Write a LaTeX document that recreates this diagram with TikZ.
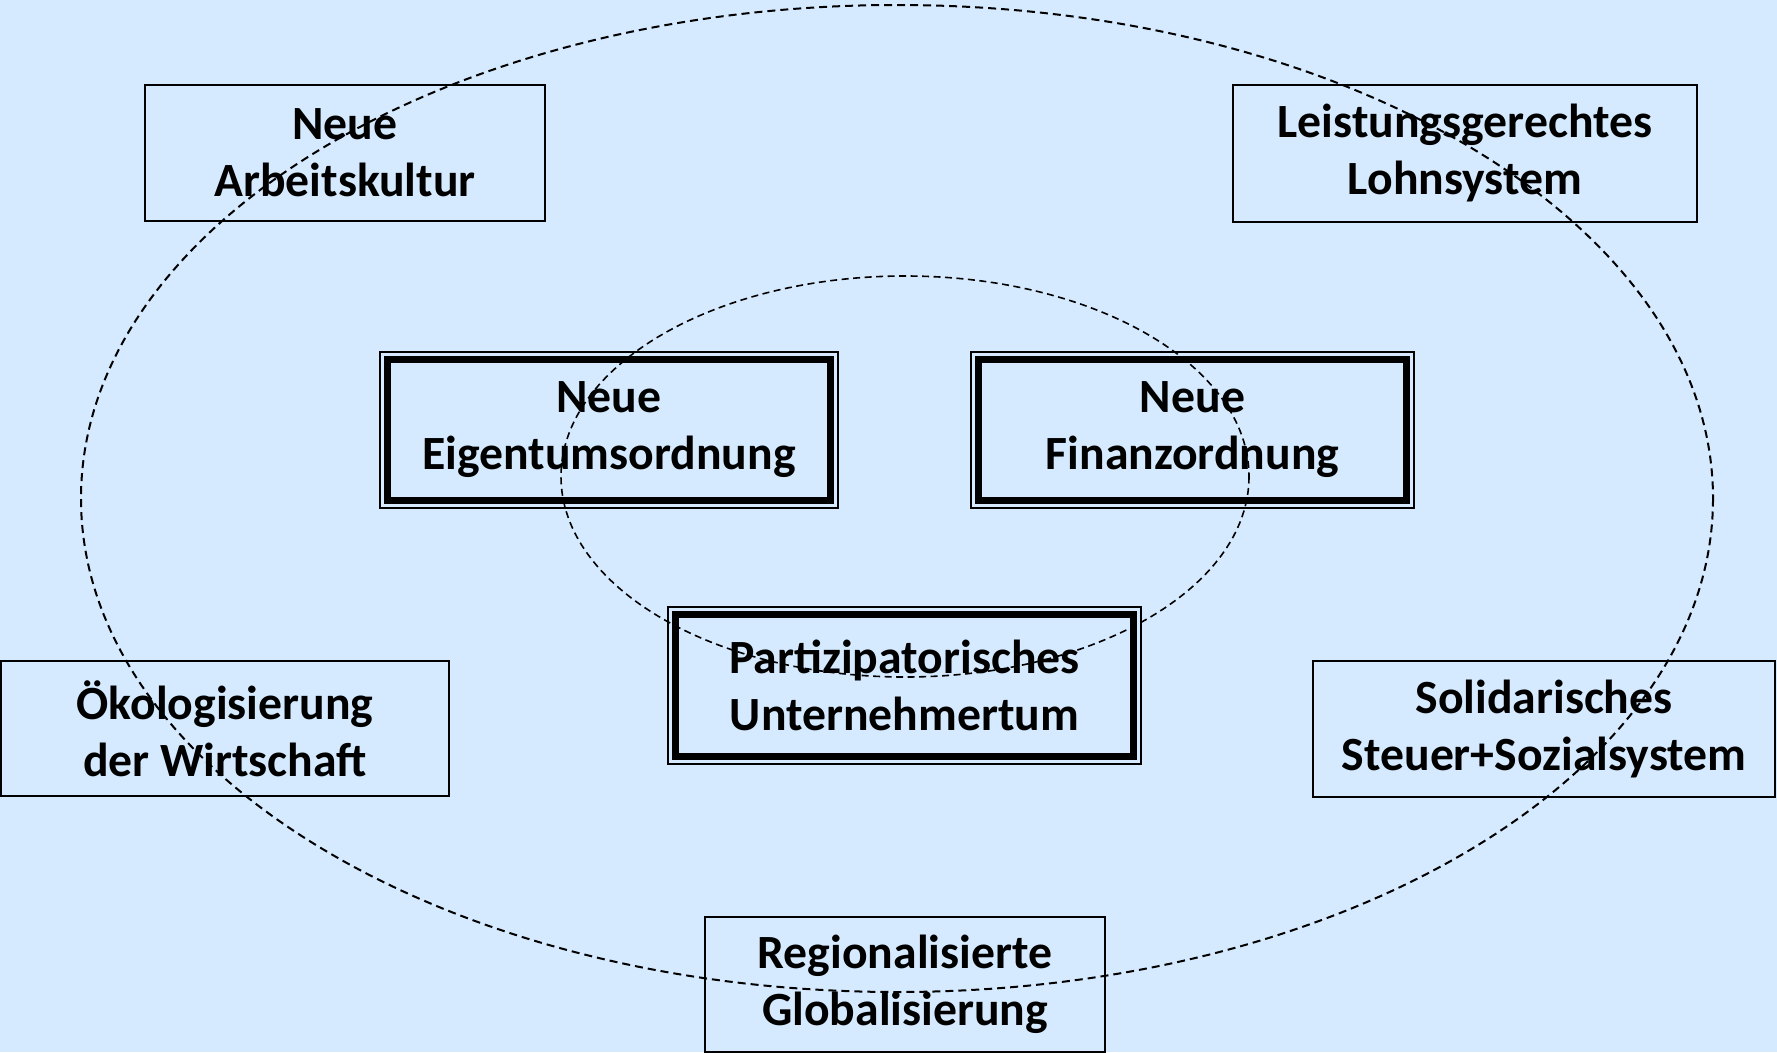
\documentclass[tikz,border=0pt]{standalone}
\usepackage{fontspec}
\setmainfont{Carlito}
\definecolor{bg}{RGB}{213,234,254}
\begin{document}
\begin{tikzpicture}[x=1pt,y=-1pt,
  box/.style={draw=black, line width=2pt, fill=bg, align=center, inner sep=0pt,
    font=\fontsize{47.7}{57}\selectfont\bfseries, text=black},
  thickframe/.style={draw=black, line width=7pt},
  ring/.style={draw=black, line width=2pt, dash pattern=on 8pt off 5pt},
  innerring/.style={draw=black, line width=1.6pt, dash pattern=on 7pt off 4.5pt}]
\useasboundingbox[fill=bg] (0,0) rectangle (1777,1052);

% thin boxes
\node[box, minimum width=400pt, minimum height=136pt] (arbeit) at (345,153) {Neue\\Arbeitskultur};
\node[box, minimum width=464pt, minimum height=137pt] (lohn) at (1465,153.5) {Leistungsgerechtes\\Lohnsystem};
\node[box, minimum width=448pt, minimum height=135pt] (oeko) at (225,728.5) {Ökologisierung\\der Wirtschaft};
\node[box, minimum width=462pt, minimum height=136pt] (solid) at (1544,729) {Solidarisches\\Steuer+Sozialsystem};
\node[box, minimum width=400pt, minimum height=135pt] (region) at (905,984.5) {Regionalisierte\\Globalisierung};

% double-framed boxes
\node[box, line width=1.6pt, minimum width=458pt, minimum height=156pt] (eigen) at (609,430) {Neue\\Eigentumsordnung};
\node[box, line width=1.6pt, minimum width=443pt, minimum height=156pt] (finanz) at (1192.5,430) {Neue\\Finanzordnung};
\node[box, line width=1.6pt, minimum width=473pt, minimum height=157pt] (partiz) at (904.5,685.5) {Partizipatorisches\\Unternehmertum};

\foreach \n in {eigen,finanz,partiz}{
  \draw[thickframe] ([shift={(8.5,8.5)}]\n.north west) rectangle ([shift={(-8.5,-8.5)}]\n.south east);
}

% dashed ellipses (drawn over the boxes)
\coordinate (outerc) at (897,498.5);
\coordinate (innerc) at (905,476.5);
\draw[ring] (outerc) ellipse [x radius=816, y radius=493.5];
\draw[innerring] (innerc) ellipse [x radius=344, y radius=200.5];
\end{tikzpicture}
\end{document}
